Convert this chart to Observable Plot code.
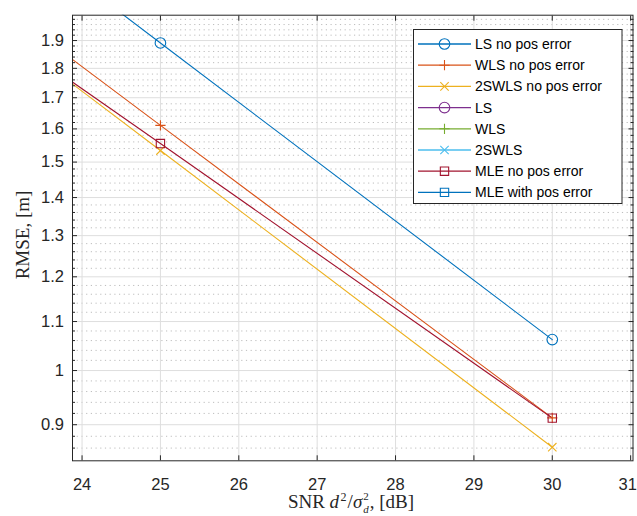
<!DOCTYPE html>
<html>
<head>
<meta charset="utf-8">
<script src="https://cdn.jsdelivr.net/npm/d3@7"></script>
<script src="https://cdn.jsdelivr.net/npm/@observablehq/plot@0.6"></script>
<style>
  body { margin: 0; background: #fff; }
  #chart { width: 637px; height: 516px; }
</style>
</head>
<body>
<div id="chart"></div>
<script>
// SNR grid of the simulation, in dB
const snrDb = [20, 25, 30];

// RMSE in metres for each estimator
const lsNoPosError    = [3.37, 1.891, 1.062];
const wlsNoPosError   = [2.85, 1.611, 0.912];
const swlsNoPosError  = [2.73, 1.534, 0.8615];
const mleNoPosError   = [2.65, 1.555, 0.9116];

const seriesNames   = ["LS no pos error", "WLS no pos error", "2SWLS no pos error", "LS", "WLS", "2SWLS", "MLE no pos error", "MLE with pos error"];
const seriesColors  = ["#0072BD", "#D95319", "#EDB120", "#7E2F8E", "#77AC30", "#4DBEEE", "#A2142F", "#0072BD"];
const seriesSymbols = ["circle", "plus", "times", "circle", "plus", "times", "square", "square"];
// curves with pos error stay above the visible window
const seriesValues  = [lsNoPosError, wlsNoPosError, swlsNoPosError, null, null, null, mleNoPosError, null];

const xTicks = [24, 25, 26, 27, 28, 29, 30, 31];
const xTickLabels = ["24", "25", "26", "27", "28", "29", "30", "31"];
const yTicks = [0.9, 1, 1.1, 1.2, 1.3, 1.4, 1.5, 1.6, 1.7, 1.8, 1.9];
const yTickLabels = ["0.9", "1", "1.1", "1.2", "1.3", "1.4", "1.5", "1.6", "1.7", "1.8", "1.9"];

const xDomain = [23.878, 31.03];
const yDomain = [0.839, 1.996];

// minor ticks every 0.02 between the labelled ones
const yMinorTicks = d3.range(43, 100).filter(k => k % 5 !== 0).map(k => k / 50);

// marker radius per symbol, so glyphs come out at similar visual size
const symbolRadius = {circle: 5.3, plus: 3.4, times: 3.9, square: 4.7};

const rows = [];
seriesValues.forEach((vals, s) => {
  if (!vals) return;
  vals.forEach((v, i) => rows.push({series: seriesNames[s], idx: s, snr: snrDb[i], rmse: v}));
});

const font = "'Liberation Sans', Arial, Helvetica, sans-serif";
const ink = "#262626";

const seriesMarks = [];
seriesValues.forEach((vals, s) => {
  if (!vals) return;
  const data = rows.filter(r => r.idx === s);
  seriesMarks.push(Plot.line(data, {x: "snr", y: "rmse", stroke: seriesColors[s], strokeWidth: 1.1, clip: true}));
});
seriesValues.forEach((vals, s) => {
  if (!vals) return;
  const data = rows.filter(r => r.idx === s);
  seriesMarks.push(Plot.dot(data, {
    x: "snr", y: "rmse", symbol: () => seriesSymbols[s], stroke: seriesColors[s], fill: "none",
    r: symbolRadius[seriesSymbols[s]], strokeWidth: 1.1, clip: true
  }));
});

const blank = () => "";

const chart = Plot.plot({
  width: 637,
  height: 516,
  marginLeft: 72,
  marginRight: 4.5,
  marginTop: 14.7,
  marginBottom: 55.7,
  x: {domain: xDomain},
  y: {type: "log", domain: yDomain},
  style: {fontFamily: font, fontSize: "16.5px", color: ink, background: "white"},
  marks: [
    Plot.ruleY(yMinorTicks, {stroke: "#bdbdbd", strokeDasharray: "1.2,3.5", strokeWidth: 1}),
    Plot.gridY(yTicks, {stroke: "#dedede", strokeOpacity: 1, strokeWidth: 1}),
    Plot.gridX(xTicks, {stroke: "#dedede", strokeOpacity: 1, strokeWidth: 1}),
    ...seriesMarks,
    Plot.frame({stroke: ink, strokeWidth: 1}),
    Plot.axisY(yTicks, {anchor: "left", tickSize: -5, tickPadding: 13.5, label: null,
      tickFormat: d => yTickLabels[yTicks.indexOf(d)], fill: ink, stroke: ink}),
    Plot.axisY(yTicks, {anchor: "right", tickSize: -5, label: null, tickFormat: blank, stroke: ink}),
    Plot.axisY(yMinorTicks, {anchor: "left", tickSize: -3, label: null, tickFormat: blank, stroke: ink}),
    Plot.axisY(yMinorTicks, {anchor: "right", tickSize: -3, label: null, tickFormat: blank, stroke: ink}),
    Plot.axisX(xTicks, {anchor: "bottom", tickSize: -5, tickPadding: 22, label: null,
      tickFormat: d => xTickLabels[xTicks.indexOf(d)], fill: ink, stroke: ink}),
    Plot.axisX(xTicks, {anchor: "top", tickSize: -5, label: null, tickFormat: blank, stroke: ink})
  ]
});

document.getElementById("chart").appendChild(chart);

const svg = d3.select(chart);
const serif = "'Liberation Serif', 'Times New Roman', Times, serif";

// keep the last x tick label inside the canvas
svg.selectAll("text").filter(function () { return this.textContent === "31"; }).attr("dx", -3);

// y axis title
svg.append("text")
  .attr("transform", "translate(29,235) rotate(-90)")
  .attr("text-anchor", "middle")
  .attr("font-family", serif)
  .attr("font-size", 19)
  .attr("fill", ink)
  .text("RMSE, [m]");

// x axis title: pieces laid out left to right, with a stacked exponent/index on sigma
const titleG = svg.append("g").attr("text-anchor", "start").attr("font-family", serif).attr("fill", ink);
const baseY = 508;
const pieces = [
  {t: "SNR\u00a0", size: 19},
  {t: "d", size: 19, italic: true},
  {t: "2", size: 12, dy: -7, gapBefore: 1.5},
  {t: "/", size: 19, gapBefore: 1},
  {t: "σ", size: 19, italic: true},
  {stack: true, sup: "2", sub: "d", size: 11, gapBefore: 1},
  {t: ",\u00a0[dB]", size: 19, gapBefore: 1}
];
let cursor = 0;
const placed = [];
pieces.forEach(p => {
  cursor += p.gapBefore || 0;
  if (p.stack) {
    const a = titleG.append("text").attr("font-size", p.size).attr("y", baseY - 8).text(p.sup);
    const b = titleG.append("text").attr("font-size", p.size).attr("font-style", "italic").attr("y", baseY + 5).text(p.sub);
    const w = Math.max(a.node().getComputedTextLength(), b.node().getComputedTextLength());
    placed.push({el: a, x: cursor}, {el: b, x: cursor});
    cursor += w;
  } else {
    const el = titleG.append("text").attr("font-size", p.size).attr("y", baseY + (p.dy || 0)).text(p.t);
    if (p.italic) el.attr("font-style", "italic");
    placed.push({el, x: cursor});
    cursor += el.node().getComputedTextLength();
  }
});
const startX = 351 - cursor / 2;
placed.forEach(({el, x}) => el.attr("x", startX + x));

// legend box
const lg = svg.append("g").attr("class", "legend").attr("text-anchor", "start");
const lgX = 413.5, lgY = 29.5, lgW = 208.5, lgH = 174;
lg.append("rect").attr("x", lgX).attr("y", lgY).attr("width", lgW).attr("height", lgH)
  .attr("fill", "white").attr("stroke", ink).attr("stroke-width", 1);
const d3Symbols = {circle: d3.symbolCircle, plus: d3.symbolPlus, times: d3.symbolTimes, square: d3.symbolSquare};
seriesNames.forEach((name, i) => {
  const cy = 44 + i * 21.2;
  const g = lg.append("g");
  g.append("line").attr("x1", 418).attr("x2", 471).attr("y1", cy).attr("y2", cy)
    .attr("stroke", seriesColors[i]).attr("stroke-width", 1.3);
  const r = symbolRadius[seriesSymbols[i]];
  g.append("path")
    .attr("transform", `translate(444.5,${cy})`)
    .attr("d", d3.symbol(d3Symbols[seriesSymbols[i]], Math.PI * r * r)())
    .attr("fill", "none").attr("stroke", seriesColors[i]).attr("stroke-width", 1.1);
  g.append("text").attr("x", 475).attr("y", cy).attr("dy", "0.35em")
    .attr("text-anchor", "start")
    .attr("font-family", font).attr("font-size", 14).attr("fill", "#000").text(name);
});
</script>
</body>
</html>
